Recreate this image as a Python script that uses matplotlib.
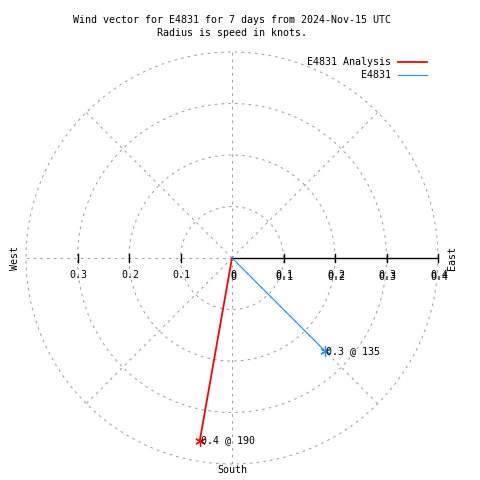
import numpy as np
import matplotlib
matplotlib.use("Agg")
import matplotlib.pyplot as plt

# ---- data ----
series_names = ["E4831 Analysis", "E4831"]
directions_deg = [190, 135]      # compass direction (clockwise from north)
speeds_kt = [0.36, 0.255]        # radius = speed in knots
series_colors = ["#ff0000", "#1e90ff"]
series_widths = [1.3, 0.8]
radial_ticks = [0.1, 0.2, 0.3, 0.4]
title_lines = ["Wind vector for E4831 for 7 days from 2024-Nov-15 UTC",
               "Radius is speed in knots."]

FONT = "DejaVu Sans Mono"
FS = 7.2
PX = 1 / 515.0  # data units per pixel

fig = plt.figure(figsize=(4.8, 4.8), dpi=100)
ax = fig.add_axes([0, 0, 1, 1])
ax.set_xlim(-232 * PX, 248 * PX)
ax.set_ylim(-222 * PX, 258 * PX)
ax.axis("off")

grid_kw = dict(color="#a0a0a0", lw=0.75, linestyle=(0, (2.5, 4)), zorder=1)
rmax = radial_ticks[-1]
# circles
t = np.linspace(0, 2 * np.pi, 400)
for r in radial_ticks:
    ax.plot(r * np.cos(t), r * np.sin(t), **grid_kw)
# radial lines every 45 degrees
for a in range(0, 360, 45):
    ar = np.deg2rad(a)
    ax.plot([0, rmax * np.cos(ar)], [0, rmax * np.sin(ar)], **grid_kw)

# solid axis to the east with ticks
ax.plot([0, rmax], [0, 0], color="black", lw=1.0, zorder=2)
tick_h = 4 * PX
for r in radial_ticks:
    ax.plot([r, r], [-tick_h, tick_h], color="black", lw=1.0, zorder=2)
for r in radial_ticks[:-1]:
    ax.plot([-r, -r], [-tick_h, tick_h], color="black", lw=1.0, zorder=2)

# tick labels: east side (doubled, gnuplot style), west side
lab_y = -17 * PX
for r in [0] + radial_ticks:
    s = "0" if r == 0 else f"{r:.1f}"
    for dy in (0, -2 * PX):
        ax.text(r + 1 * PX, lab_y + dy, s, fontsize=FS, family=FONT,
                ha="center", va="center", zorder=3)
for r in radial_ticks[:-1]:
    ax.text(-r + 1 * PX, lab_y, f"{r:.1f}", fontsize=FS, family=FONT,
            ha="center", va="center", zorder=3)

# compass labels
ax.text(-217 * PX, 0, "West", rotation=90, fontsize=FS, family=FONT,
        ha="center", va="center")
ax.text(220 * PX, 0, "East", rotation=90, fontsize=FS, family=FONT,
        ha="center", va="center")
ax.text(0, -212 * PX, "South", fontsize=FS, family=FONT,
        ha="center", va="center")

# wind vectors
for name, d, s, c, w in zip(series_names, directions_deg, speeds_kt,
                            series_colors, series_widths):
    th = np.deg2rad(d)
    x, y = s * np.sin(th), s * np.cos(th)
    ax.plot([0, x], [0, y], color=c, lw=w, zorder=4)
    ax.plot([x], [y], marker=(6, 2, 0), color=c, markersize=7.5,
            markeredgewidth=0.9, zorder=5)
    ax.text(x + 1 * PX, y, f"{s:.1f} @ {d}", fontsize=FS, family=FONT,
            ha="left", va="center", zorder=6)

# legend (gnuplot-like)
for i, (name, c, w) in enumerate(zip(series_names, series_colors, series_widths)):
    ypx = 62 + 13 * i
    yd = (258 - ypx) * PX
    ax.text((391 - 232) * PX, yd, name, fontsize=FS, family=FONT,
            ha="right", va="center")
    ax.plot([(398 - 232) * PX, (427 - 232) * PX], [yd, yd], color=c, lw=w)

# title
fig.text(232 / 480, 1 - 20 / 480, title_lines[0], fontsize=FS, family=FONT,
         ha="center", va="center")
fig.text(232 / 480, 1 - 33 / 480, title_lines[1], fontsize=FS, family=FONT,
         ha="center", va="center")

fig.savefig("out.png", dpi=100)
